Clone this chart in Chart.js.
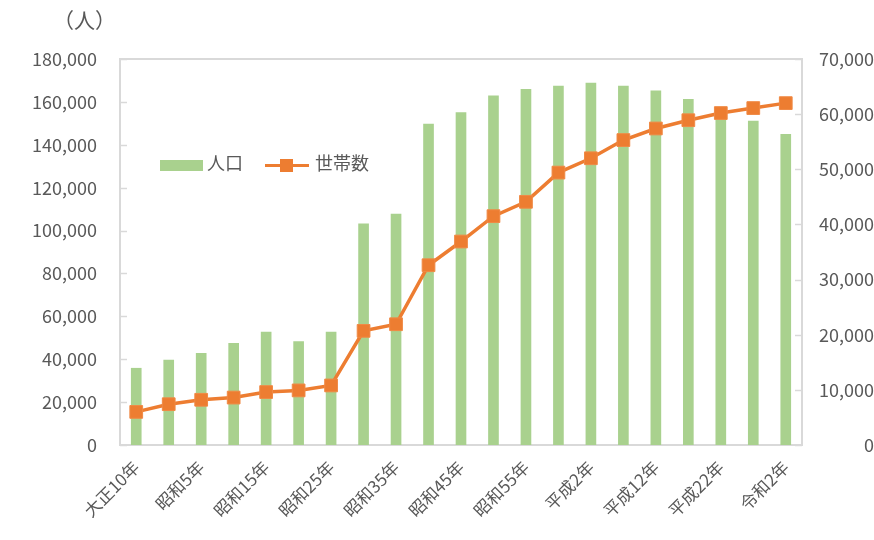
<!DOCTYPE html>
<html>
<head>
  <meta charset="utf-8">
  <script src="https://cdn.jsdelivr.net/npm/chart.js@4"></script>
  <style>
    body { margin: 0; background: #fff; }
    #wrap { position: relative; width: 874px; height: 540px; }
    .txt { position: absolute; font-family: "Noto Sans CJK JP", sans-serif; color: #595959; white-space: nowrap; }
  </style>
</head>
<body>
  <div id="wrap">
    <canvas id="myChart" width="874" height="540"></canvas>
    <div class="txt" style="left:53px; top:4px; font-size:21px;">（人）</div>
    <div class="txt" style="left:160px; top:149px; font-size:18px; line-height:26px;">
      <span style="display:inline-block; width:43px; height:11px; background:#a9d18e; vertical-align:middle; margin-right:4px;"></span>人口
      <span style="display:inline-block; position:relative; width:44px; height:11px; vertical-align:middle; margin-left:18px; margin-right:6px;">
        <span style="position:absolute; left:0; top:4px; width:44px; height:3px; background:#ed7d31;"></span>
        <span style="position:absolute; left:15px; top:-1px; width:13px; height:13px; background:#ed7d31;"></span>
      </span>世帯数
    </div>
  </div>
  <script>
    var years = ['大正10年', '大正14年', '昭和5年', '昭和10年', '昭和15年', '昭和22年', '昭和25年',
      '昭和30年', '昭和35年', '昭和40年', '昭和45年', '昭和50年', '昭和55年', '昭和60年',
      '平成2年', '平成7年', '平成12年', '平成17年', '平成22年', '平成27年', '令和2年']
    var population = [35800, 39600, 42800, 47400, 52700, 48200, 52700, 103100, 107700, 149600,
      155000, 162800, 165900, 167400, 168800, 167400, 165100, 161200, 155000, 151100, 144900]
    var households = [6000, 7400, 8200, 8600, 9600, 9900, 10800, 20700, 21900, 32600,
      36900, 41500, 44100, 49400, 52000, 55300, 57400, 58900, 60200, 61100, 62000]
    var leftTicks = [0, 180000, 20000]
    var rightTicks = [0, 70000, 10000]

    var tickFont = { family: '"Noto Sans CJK JP", sans-serif', size: 18 }
    var xFont = { family: '"Noto Sans CJK JP", sans-serif', size: 17 }
    var gray = '#595959'
    var frame = '#d9d9d9'

    // frame round the plot and short tick marks that point inwards
    var framePlugin = {
      id: 'frame',
      beforeDatasetsDraw(chart) {
        var ctx = chart.ctx
        var a = chart.chartArea
        ctx.save()
        ctx.strokeStyle = frame
        ctx.lineWidth = 2
        ctx.strokeRect(a.left, a.top, a.right - a.left, a.bottom - a.top)
        ctx.lineWidth = 1.5
        chart.scales.y.ticks.forEach(function (t) {
          var py = Math.round(chart.scales.y.getPixelForValue(t.value)) + 0.5
          ctx.beginPath(); ctx.moveTo(a.left, py); ctx.lineTo(a.left + 7, py); ctx.stroke()
        })
        chart.scales.y1.ticks.forEach(function (t) {
          var py = Math.round(chart.scales.y1.getPixelForValue(t.value)) + 0.5
          ctx.beginPath(); ctx.moveTo(a.right - 7, py); ctx.lineTo(a.right, py); ctx.stroke()
        })
        ctx.restore()
      }
    }

    var ctx = document.getElementById('myChart').getContext('2d')
    var chart = new Chart(ctx, {
      data: {
        labels: years,
        datasets: [{
          type: 'bar',
          label: '人口',
          data: population,
          backgroundColor: '#a9d18e',
          barThickness: 10,
          yAxisID: 'y',
          order: 2
        }, {
          type: 'line',
          label: '世帯数',
          data: households,
          borderColor: '#ed7d31',
          backgroundColor: '#ed7d31',
          borderWidth: 3.5,
          pointStyle: 'rect',
          pointRadius: 9,
          pointBorderWidth: 1,
          pointBorderColor: '#f08a45',
          tension: 0,
          yAxisID: 'y1',
          order: 1
        }]
      },
      options: {
        responsive: false,
        animation: false,
        layout: { padding: { top: 59, left: 0, right: 0, bottom: 0 } },
        plugins: { legend: { display: false }, tooltip: { enabled: false } },
        scales: {
          x: {
            grid: { display: false },
            border: { display: false },
            ticks: {
              autoSkip: false,
              minRotation: 45,
              maxRotation: 45,
              color: gray,
              font: xFont,
              padding: 4,
              callback: function (v, i) { return i % 2 === 0 ? years[i] : '' }
            },
            afterFit: function (s) { s.height = 95 }
          },
          y: {
            position: 'left',
            min: leftTicks[0],
            max: leftTicks[1],
            grid: { display: false, drawTicks: false },
            border: { display: false },
            ticks: {
              stepSize: leftTicks[2],
              color: gray,
              font: tickFont,
              padding: 23,
              callback: function (v) { return v.toLocaleString('en-US') }
            },
            afterFit: function (s) { s.width = 120 }
          },
          y1: {
            position: 'right',
            min: rightTicks[0],
            max: rightTicks[1],
            grid: { display: false, drawTicks: false },
            border: { display: false },
            ticks: {
              stepSize: rightTicks[2],
              color: gray,
              font: tickFont,
              padding: 23,
              crossAlign: 'far',
              callback: function (v) { return v.toLocaleString('en-US') }
            },
            afterFit: function (s) { s.width = 72 }
          }
        }
      },
      plugins: [framePlugin]
    })
  </script>
</body>
</html>
